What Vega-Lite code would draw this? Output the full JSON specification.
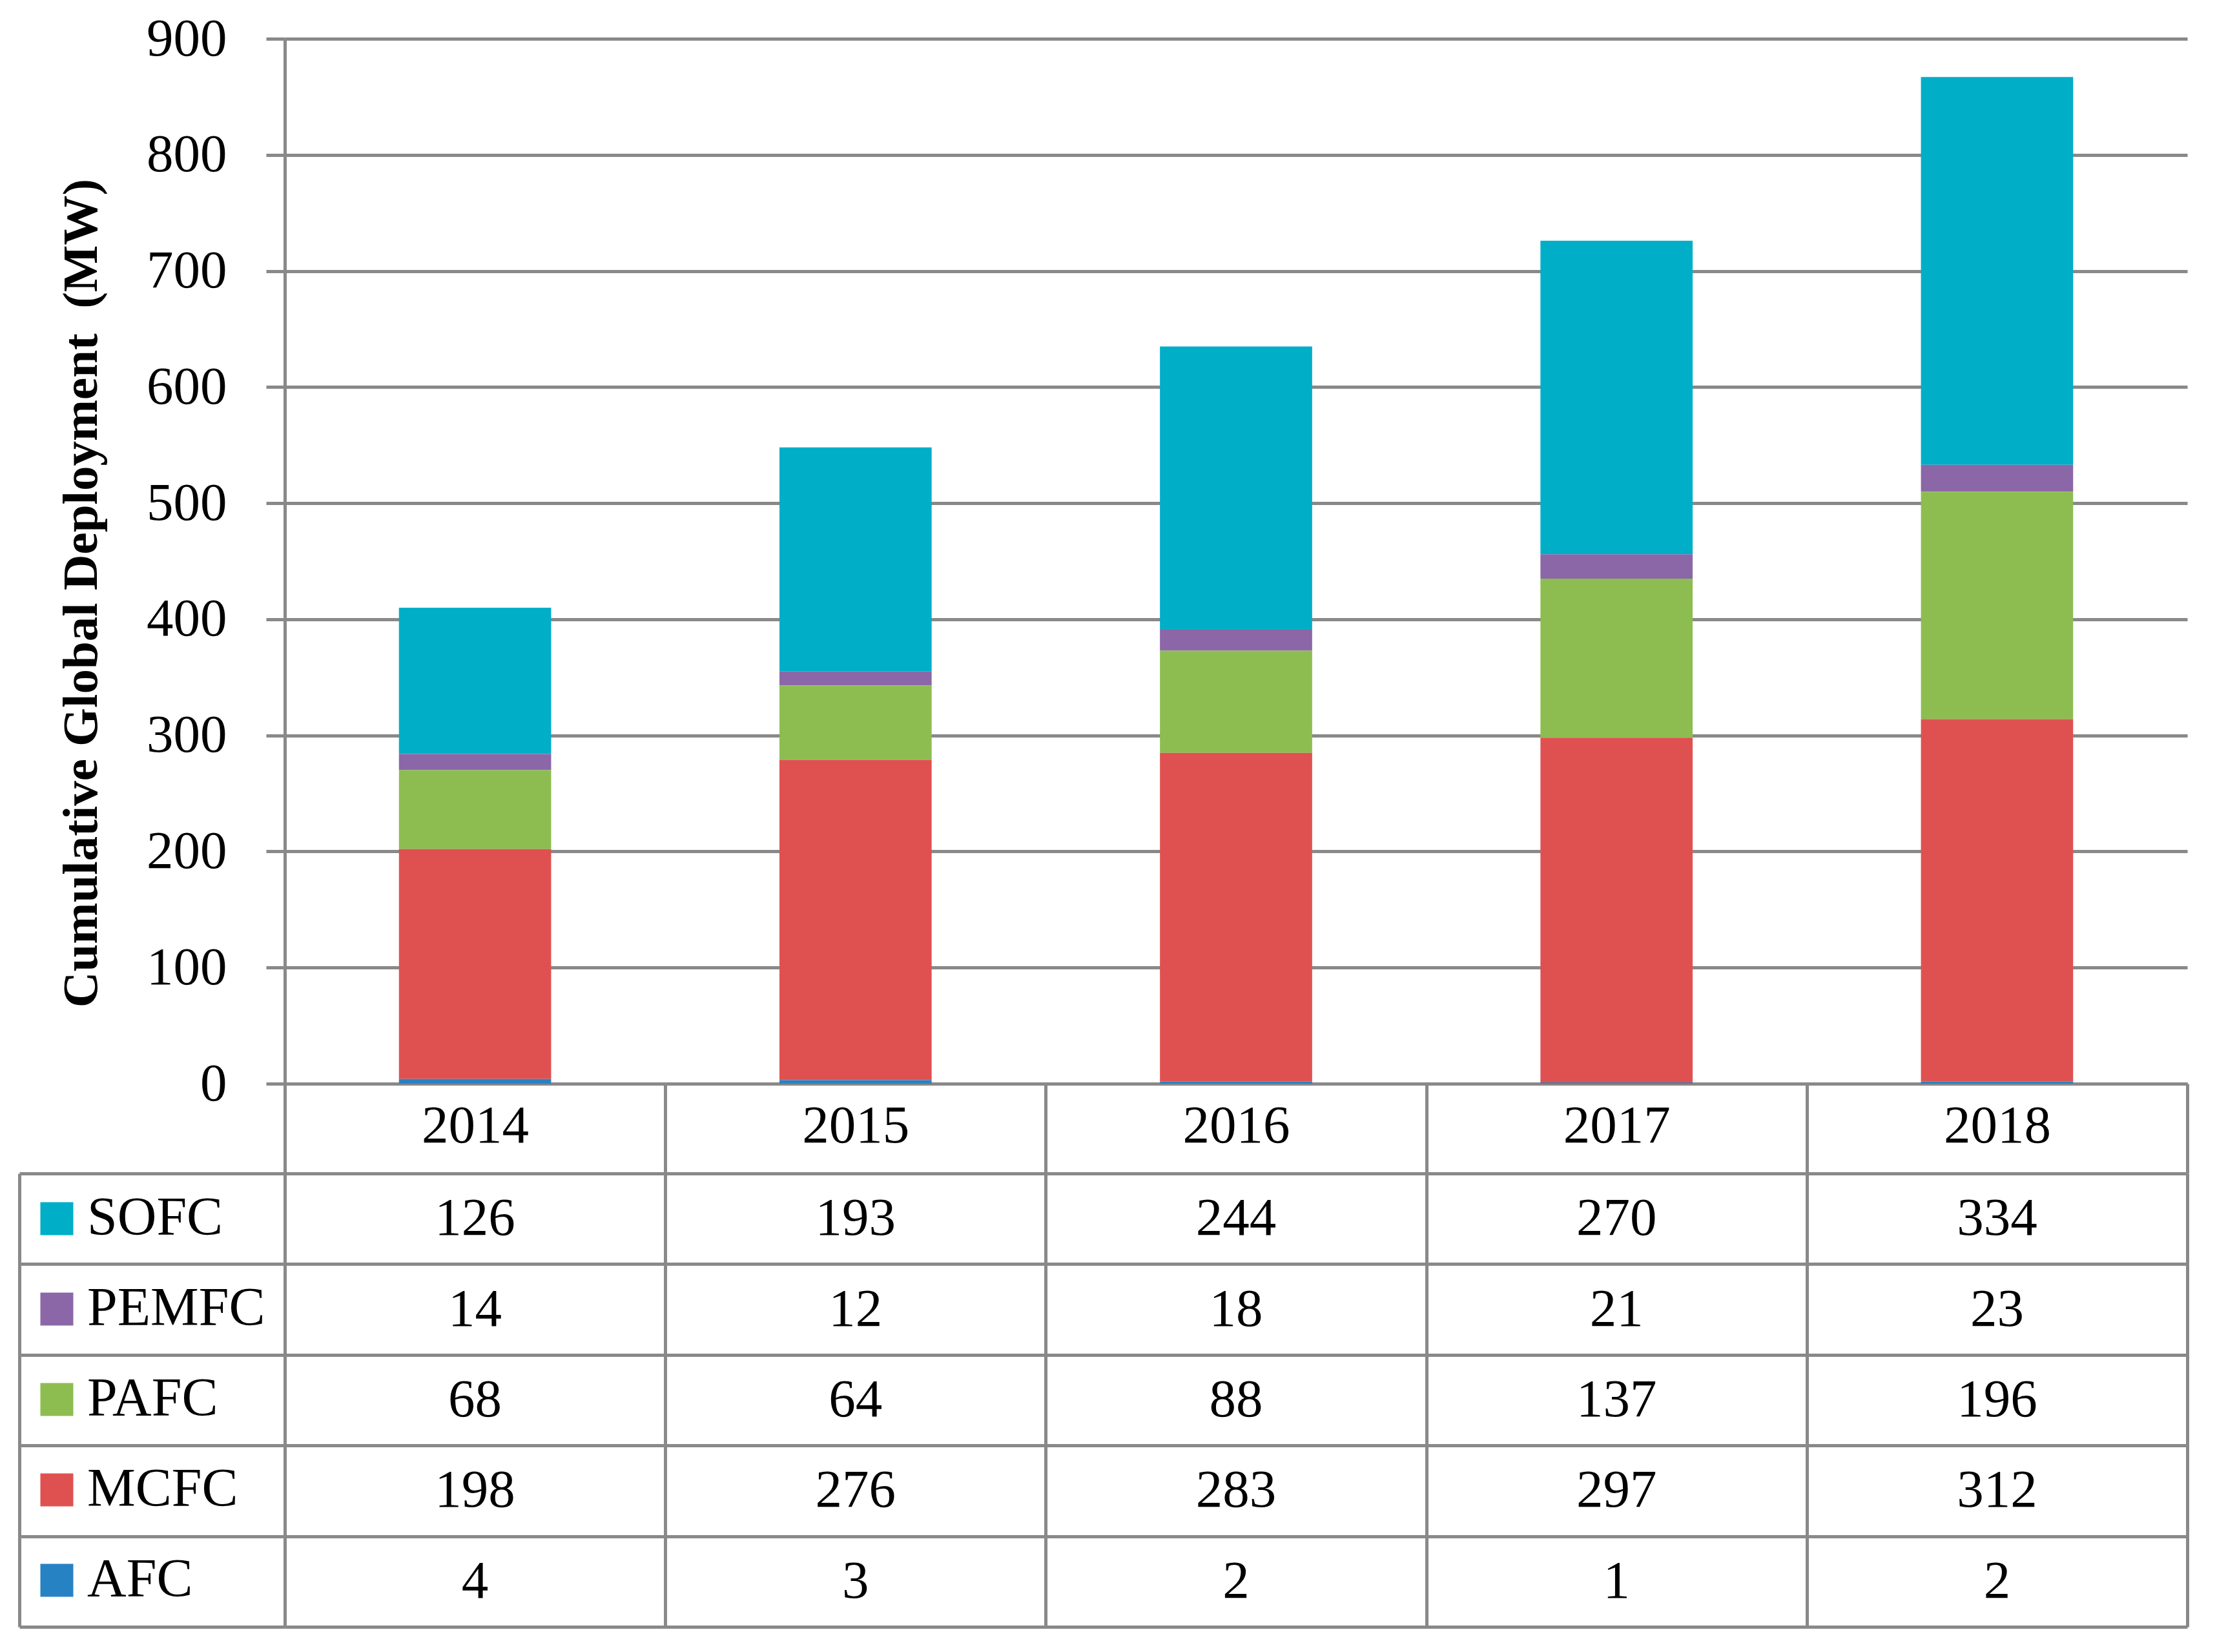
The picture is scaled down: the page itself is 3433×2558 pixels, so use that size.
{
  "$schema": "https://vega.github.io/schema/vega-lite/v6.json",
  "autosize": {"type": "none"},
  "padding": {"left": 441, "top": 60, "right": 2992, "bottom": 2498},
  "background": "white",
  "config": {"view": {"stroke": null}, "font": "Liberation Serif"},
  "datasets": {
    "deploy": [
      {"year": "2014", "series": "SOFC", "value": 126},
      {"year": "2014", "series": "PEMFC", "value": 14},
      {"year": "2014", "series": "PAFC", "value": 68},
      {"year": "2014", "series": "MCFC", "value": 198},
      {"year": "2014", "series": "AFC", "value": 4},
      {"year": "2015", "series": "SOFC", "value": 193},
      {"year": "2015", "series": "PEMFC", "value": 12},
      {"year": "2015", "series": "PAFC", "value": 64},
      {"year": "2015", "series": "MCFC", "value": 276},
      {"year": "2015", "series": "AFC", "value": 3},
      {"year": "2016", "series": "SOFC", "value": 244},
      {"year": "2016", "series": "PEMFC", "value": 18},
      {"year": "2016", "series": "PAFC", "value": 88},
      {"year": "2016", "series": "MCFC", "value": 283},
      {"year": "2016", "series": "AFC", "value": 2},
      {"year": "2017", "series": "SOFC", "value": 270},
      {"year": "2017", "series": "PEMFC", "value": 21},
      {"year": "2017", "series": "PAFC", "value": 137},
      {"year": "2017", "series": "MCFC", "value": 297},
      {"year": "2017", "series": "AFC", "value": 1},
      {"year": "2018", "series": "SOFC", "value": 334},
      {"year": "2018", "series": "PEMFC", "value": 23},
      {"year": "2018", "series": "PAFC", "value": 196},
      {"year": "2018", "series": "MCFC", "value": 312},
      {"year": "2018", "series": "AFC", "value": 2}
    ]
  },
  "bounds": "flush",
  "spacing": 139,
  "resolve": {"scale": {"color": "independent"}, "legend": {"color": "independent"}},
  "vconcat": [
    {
      "width": 2946,
      "height": 1618,
      "data": {"name": "deploy"},
      "mark": {"type": "bar", "width": {"band": 0.4}},
      "encoding": {
        "x": {
          "field": "year", "type": "nominal",
          "scale": {"paddingInner": 0, "paddingOuter": 0},
          "axis": {
            "orient": "bottom", "title": null, "labelAngle": 0,
            "labelFont": "Liberation Serif", "labelFontSize": 83, "labelColor": "black",
            "labelPadding": -74, "labelBaseline": "middle",
            "tickBand": "extent", "tickSize": 139, "tickWidth": 5, "tickColor": "#898989",
            "domainColor": "#898989", "domainWidth": 5, "grid": false
          }
        },
        "y": {
          "field": "value", "type": "quantitative", "stack": "zero",
          "scale": {"domain": [0, 900], "nice": false},
          "axis": {
            "title": "Cumulative Global Deployment \u00a0(MW)",
            "values": [0, 100, 200, 300, 400, 500, 600, 700, 800, 900],
            "grid": true, "gridColor": "#898989", "gridWidth": 5, "gridOpacity": 1,
            "tickSize": 29, "tickWidth": 5, "tickColor": "#898989",
            "domainColor": "#898989", "domainWidth": 5,
            "labelFont": "Liberation Serif", "labelFontSize": 83, "labelColor": "black",
            "labelPadding": 61, "labelFlush": false, "labelOverlap": false,
            "titleFont": "Liberation Serif", "titleFontSize": 77, "titleFontWeight": "bold",
            "titleColor": "black", "titleX": -292, "titleY": 858, "titleBaseline": "alphabetic",
            "titleAngle": 270
          }
        },
        "color": {
          "field": "series", "type": "nominal",
          "scale": {
            "domain": ["SOFC", "PEMFC", "PAFC", "MCFC", "AFC"],
            "range": ["#00AEC7", "#8B67A7", "#8DBD51", "#DF5150", "#2782C4"]
          },
          "legend": null
        },
        "order": {"field": "series", "sort": "ascending"}
      }
    },
    {
      "width": 2946,
      "height": 702,
      "data": {"name": "deploy"},
      "resolve": {"axis": {"y": "independent"}},
      "layer": [
        {
          "mark": {"type": "text", "font": "Liberation Serif", "fontSize": 83, "color": "black", "baseline": "middle"},
          "encoding": {
            "x": {
              "field": "year", "type": "nominal",
              "scale": {"paddingInner": 0, "paddingOuter": 0},
              "axis": {
                "orient": "bottom", "labels": false, "ticks": false, "domain": false, "title": null,
                "grid": true, "tickBand": "extent", "gridColor": "#898989", "gridWidth": 5, "gridOpacity": 1
              }
            },
            "y": {
              "field": "series", "type": "nominal",
              "sort": ["SOFC", "PEMFC", "PAFC", "MCFC", "AFC"],
              "scale": {"paddingInner": 0, "paddingOuter": 0},
              "axis": {
                "orient": "left", "labels": false, "title": null,
                "tickBand": "extent", "tickSize": 411, "tickWidth": 5, "tickColor": "#898989",
                "grid": true, "gridColor": "#898989", "gridWidth": 5, "gridOpacity": 1,
                "domainColor": "#898989", "domainWidth": 5
              }
            },
            "text": {"field": "value", "type": "quantitative"}
          }
        },
        {
          "mark": {"type": "square", "opacity": 0},
          "encoding": {
            "x": {
              "field": "year", "type": "nominal",
              "axis": {
                "orient": "bottom", "labels": false, "ticks": false, "domain": false, "title": null,
                "grid": true, "tickBand": "extent", "gridColor": "#898989", "gridWidth": 5, "gridOpacity": 1
              }
            },
            "y": {
              "field": "series", "type": "nominal",
              "sort": ["SOFC", "PEMFC", "PAFC", "MCFC", "AFC"],
              "axis": {
                "orient": "left", "offset": 411, "labels": false, "ticks": false, "grid": false, "title": null,
                "domainColor": "#898989", "domainWidth": 5
              }
            },
            "color": {
              "field": "series", "type": "nominal",
              "scale": {
                "domain": ["SOFC", "PEMFC", "PAFC", "MCFC", "AFC"],
                "range": ["#00AEC7", "#8B67A7", "#8DBD51", "#DF5150", "#2782C4"]
              },
              "legend": {
                "orient": "none", "legendX": -395, "legendY": 28, "title": null,
                "symbolType": "square", "symbolSize": 2601, "symbolOpacity": 1, "symbolStrokeWidth": 0,
                "labelFont": "Liberation Serif", "labelFontSize": 84, "labelColor": "black",
                "labelOffset": 5, "labelLimit": 500, "rowPadding": 56, "padding": 0
              }
            }
          }
        }
      ]
    }
  ]
}
